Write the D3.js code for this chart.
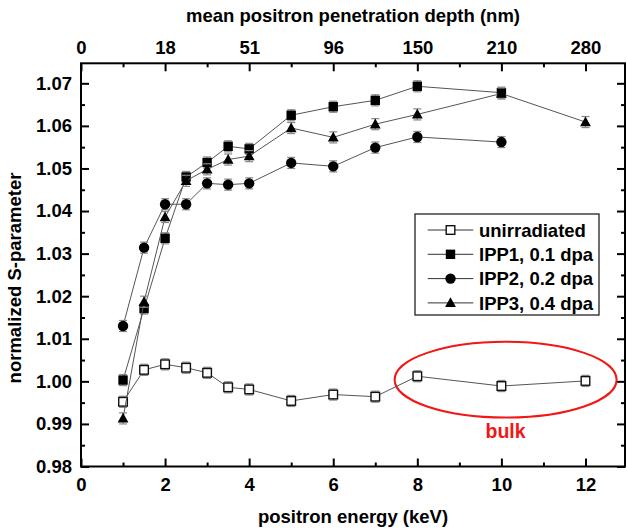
<!DOCTYPE html>
<html>
<head>
<meta charset="utf-8">
<script src="https://cdn.jsdelivr.net/npm/d3@7"></script>
<style>
  body { margin: 0; background: #fff; }
  text { font-family: "Liberation Sans", Arial, sans-serif; font-weight: bold; font-size: 18.5px; }
</style>
</head>
<body>
<svg id="chart" width="627" height="530"></svg>
<script>
var energy = [1, 1.5, 2, 2.5, 3, 3.5, 4, 5, 6, 7, 8, 10, 12];
var unirradiated = [0.9952, 1.0027, 1.0040, 1.0032, 1.0020, 0.9986, 0.9981, 0.9954, 0.9969, 0.9964, 1.0012, 0.9989, 1.0001];
var ipp1 = [1.0003, 1.0171, 1.0336, 1.0480, 1.0514, 1.0552, 1.0546, 1.0625, 1.0645, 1.0660, 1.0693, 1.0678, null];
var ipp2 = [1.0130, 1.0314, 1.0416, 1.0416, 1.0465, 1.0462, 1.0465, 1.0513, 1.0505, 1.0549, 1.0574, 1.0562, null];
var ipp3 = [0.9913, 1.0187, 1.0386, 1.0471, 1.0498, 1.0521, 1.0529, 1.0595, 1.0573, 1.0604, 1.0627, 1.0676, 1.0609];
var sErr = 0.0013;

var energyTicks = [0, 2, 4, 6, 8, 10, 12];
var depthLabels = ['0', '18', '51', '96', '150', '210', '280'];
var sTicks = [0.98, 0.99, 1.00, 1.01, 1.02, 1.03, 1.04, 1.05, 1.06, 1.07];

var seriesNames = ['unirradiated', 'IPP1, 0.1 dpa', 'IPP2, 0.2 dpa', 'IPP3, 0.4 dpa'];
var seriesValues = [unirradiated, ipp1, ipp2, ipp3];
var seriesShapes = ['openSquare', 'square', 'circle', 'triangle'];

// bulk region marker
var bulkCenter = [10.1, 1.0004];
var bulkRadius = [2.64, 0.0089];

var margin = { top: 63.3, right: 2, bottom: 63.5, left: 81 };
var width = 627 - margin.left - margin.right;
var height = 530 - margin.top - margin.bottom;

var svg = d3.select('#chart').append('g')
  .attr('transform', 'translate(' + margin.left + ', ' + margin.top + ')');

var xScale = d3.scaleLinear().domain([0, 12.94]).range([0, width]);
var yScale = d3.scaleLinear().domain([0.98, 1.0747]).range([height, 0]);

// axes: ticks point inward, minor ticks drawn separately
function styleAxis(g) {
  g.select('.domain').remove();
  g.selectAll('line').attr('stroke', '#000').attr('stroke-width', 2);
  g.selectAll('text').attr('fill', '#000').attr('font-family', null).attr('font-size', null);
}

var minorX = d3.range(1, 13, 2);
var minorY = d3.range(0.985, 1.075, 0.01);

svg.append('g').attr('transform', 'translate(0,' + height + ')')
  .call(d3.axisBottom(xScale).tickValues(energyTicks).tickSize(-8).tickPadding(11).tickFormat(d3.format('d')))
  .call(styleAxis);
svg.append('g').attr('transform', 'translate(0,' + height + ')')
  .call(d3.axisBottom(xScale).tickValues(minorX).tickSize(-4).tickFormat(''))
  .call(styleAxis);

svg.append('g')
  .call(d3.axisTop(xScale).tickValues(energyTicks).tickSize(-8).tickPadding(9)
    .tickFormat(function (d, i) { return depthLabels[i]; }))
  .call(styleAxis);
svg.append('g')
  .call(d3.axisTop(xScale).tickValues(minorX).tickSize(-4).tickFormat(''))
  .call(styleAxis);

svg.append('g')
  .call(d3.axisLeft(yScale).tickValues(sTicks).tickSize(-8).tickPadding(9).tickFormat(d3.format('.2f')))
  .call(styleAxis);
svg.append('g')
  .call(d3.axisLeft(yScale).tickValues(minorY).tickSize(-4).tickFormat(''))
  .call(styleAxis);

svg.append('g').attr('transform', 'translate(' + width + ',0)')
  .call(d3.axisRight(yScale).tickValues(sTicks).tickSize(-8).tickFormat(''))
  .call(styleAxis);
svg.append('g').attr('transform', 'translate(' + width + ',0)')
  .call(d3.axisRight(yScale).tickValues(minorY).tickSize(-4).tickFormat(''))
  .call(styleAxis);

svg.append('rect')
  .attr('width', width)
  .attr('height', height)
  .attr('fill', 'none')
  .attr('stroke', '#000')
  .attr('stroke-width', 2);

// axis titles
svg.append('text')
  .attr('x', width / 2)
  .attr('y', height + 57)
  .attr('text-anchor', 'middle')
  .text('positron energy (keV)');
svg.append('text')
  .attr('x', width / 2)
  .attr('y', -41.5)
  .attr('text-anchor', 'middle')
  .text('mean positron penetration depth (nm)');
svg.append('text')
  .attr('transform', 'translate(' + (-60) + ',' + (278 - margin.top) + ') rotate(-90)')
  .attr('text-anchor', 'middle')
  .text('normalized S-parameter');

// bulk ellipse
svg.append('ellipse')
  .attr('cx', xScale(bulkCenter[0]))
  .attr('cy', yScale(bulkCenter[1]))
  .attr('rx', xScale(bulkCenter[0] + bulkRadius[0]) - xScale(bulkCenter[0]))
  .attr('ry', yScale(bulkCenter[1]) - yScale(bulkCenter[1] + bulkRadius[1]))
  .attr('fill', 'none')
  .attr('stroke', '#f21616')
  .attr('stroke-width', 2);
svg.append('text')
  .attr('x', xScale(bulkCenter[0]))
  .attr('y', yScale(0.9867))
  .attr('text-anchor', 'middle')
  .attr('fill', '#f21616')
  .style('font-size', '19.5px')
  .text('bulk');

function drawMarker(g, shape) {
  if (shape === 'openSquare') {
    g.append('rect').attr('x', -4.3).attr('y', -4.3).attr('width', 8.6).attr('height', 8.6)
      .attr('fill', '#fff').attr('stroke', '#111').attr('stroke-width', 1.4);
  } else if (shape === 'square') {
    g.append('rect').attr('x', -4.7).attr('y', -4.7).attr('width', 9.4).attr('height', 9.4)
      .attr('fill', '#000');
  } else if (shape === 'circle') {
    g.append('circle').attr('r', 5.2).attr('fill', '#000');
  } else {
    g.append('path').attr('d', 'M0,-5.6L5.4,4.2L-5.4,4.2Z').attr('fill', '#000');
  }
}

var line = d3.line()
  .x(function (d) { return xScale(d[0]); })
  .y(function (d) { return yScale(d[1]); });

seriesValues.forEach(function (vals, k) {
  var pts = energy.map(function (e, i) { return [e, vals[i]]; })
    .filter(function (d) { return d[1] !== null; });

  svg.append('path')
    .datum(pts)
    .attr('d', line)
    .attr('fill', 'none')
    .attr('stroke', '#555')
    .attr('stroke-width', 1);

  var errs = svg.append('g').selectAll('g')
    .data(pts)
    .enter()
    .append('g')
    .attr('stroke', '#888')
    .attr('stroke-width', 1.2);
  errs.append('line')
    .attr('x1', function (d) { return xScale(d[0]); })
    .attr('x2', function (d) { return xScale(d[0]); })
    .attr('y1', function (d) { return yScale(d[1] - sErr); })
    .attr('y2', function (d) { return yScale(d[1] + sErr); });
  [-1, 1].forEach(function (s) {
    errs.append('line')
      .attr('x1', function (d) { return xScale(d[0]) - 4; })
      .attr('x2', function (d) { return xScale(d[0]) + 4; })
      .attr('y1', function (d) { return yScale(d[1] + s * sErr); })
      .attr('y2', function (d) { return yScale(d[1] + s * sErr); });
  });

  svg.append('g').selectAll('g')
    .data(pts)
    .enter()
    .append('g')
    .attr('transform', function (d) { return 'translate(' + xScale(d[0]) + ',' + yScale(d[1]) + ')'; })
    .each(function () { drawMarker(d3.select(this), seriesShapes[k]); });
});

// legend
var legend = d3.select('#chart').append('g').attr('transform', 'translate(415,214)');
legend.append('rect')
  .attr('width', 184)
  .attr('height', 101)
  .attr('fill', '#fff')
  .attr('stroke', '#222')
  .attr('stroke-width', 1.3);

var rows = legend.selectAll('g.row')
  .data(seriesNames)
  .enter()
  .append('g')
  .attr('class', 'row')
  .attr('transform', function (d, i) { return 'translate(0,' + (16 + i * 24.3) + ')'; });
rows.append('line')
  .attr('x1', 12.7).attr('x2', 58.3)
  .attr('stroke', '#333').attr('stroke-width', 1);
rows.append('g')
  .attr('transform', 'translate(35.5,0)')
  .each(function (d, i) { drawMarker(d3.select(this), seriesShapes[i]); });
rows.append('text')
  .attr('x', 64)
  .attr('y', 6.6)
  .text(function (d) { return d; });
</script>
</body>
</html>
